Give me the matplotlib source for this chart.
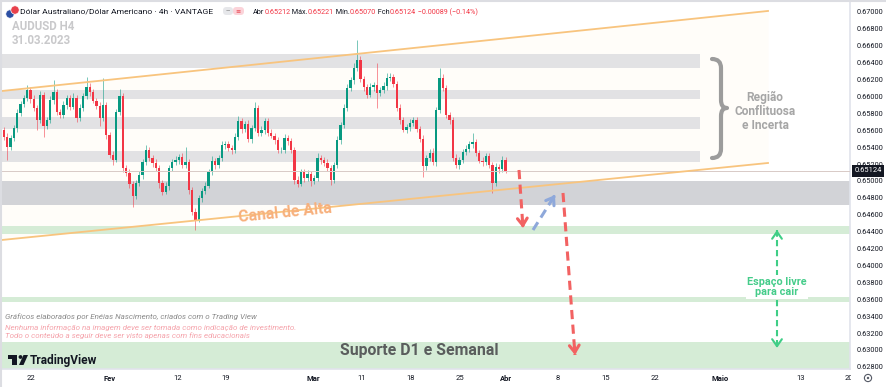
import numpy as np
import matplotlib
matplotlib.use("Agg")
import matplotlib.pyplot as plt
from matplotlib.path import Path
from matplotlib.patches import PathPatch, FancyBboxPatch, Circle, Polygon, Rectangle

plt.rcParams['font.family'] = ['Roboto', 'DejaVu Sans']

# AUDUSD candles (each one ~8h)
first_open = 0.65604
closes = [
    0.65521, 0.65402, 0.65509, 0.65627, 0.65805, 0.65911, 0.65982, 0.66077, 0.65970, 0.65864,
    0.65722, 0.66018, 0.65651, 0.65722, 0.65959, 0.66053, 0.65817, 0.65781, 0.65899, 0.65982,
    0.65876, 0.65982, 0.65746, 0.65864, 0.66006, 0.66112, 0.66053, 0.65947, 0.65888, 0.65746,
    0.65899, 0.65544, 0.65308, 0.65249, 0.65817, 0.66006, 0.65154, 0.65095, 0.64965, 0.64823,
    0.64976, 0.65071, 0.65225, 0.65367, 0.65272, 0.65213, 0.65154, 0.64976, 0.64870, 0.64941,
    0.65154, 0.65225, 0.65249, 0.65284, 0.65189, 0.65225, 0.64894, 0.64633, 0.64539, 0.64799,
    0.64882, 0.64941, 0.65107, 0.65237, 0.65189, 0.65272, 0.65426, 0.65438, 0.65391, 0.65367,
    0.65521, 0.65710, 0.65615, 0.65675, 0.65497, 0.65627, 0.65864, 0.65568, 0.65604, 0.65710,
    0.65568, 0.65533, 0.65485, 0.65367, 0.65367, 0.65509, 0.65473, 0.65367, 0.65012, 0.64965,
    0.65107, 0.65036, 0.65083, 0.65000, 0.65036, 0.65272, 0.65249, 0.65213, 0.65154, 0.65012,
    0.65189, 0.65485, 0.65663, 0.65864, 0.66101, 0.66195, 0.66337, 0.66432, 0.66207, 0.66112,
    0.66018, 0.66112, 0.66136, 0.66041, 0.66077, 0.66124, 0.66219, 0.66231, 0.66148, 0.65864,
    0.65722, 0.65604, 0.65639, 0.65686, 0.65722, 0.65615, 0.65497, 0.65178, 0.65272, 0.65331,
    0.65225, 0.65840, 0.66219, 0.66101, 0.65781, 0.65722, 0.65272, 0.65189, 0.65249, 0.65343,
    0.65379, 0.65438, 0.65462, 0.65331, 0.65237, 0.65225, 0.65296, 0.65189, 0.64976, 0.65166,
    0.65142, 0.65249, 0.65124,
]
# wick lengths beyond the body, in pips
wick_up = [
    4, 5, 3, 4, 5, 3, 4, 6, 4, 5, 3, 5, 4, 4, 5, 14, 4,
    3, 5, 4, 4, 6, 3, 5, 4, 12, 5, 4, 3, 5, 32, 4, 3, 5,
    4, 8, 3, 4, 5, 3, 4, 5, 4, 6, 3, 4, 5, 3, 4, 5, 4,
    3, 5, 4, 5, 18, 3, 4, 5, 4, 3, 5, 4, 6, 3, 4, 5, 4,
    3, 4, 5, 6, 4, 3, 5, 4, 7, 3, 5, 4, 3, 5, 4, 4, 3,
    5, 4, 3, 4, 5, 3, 4, 5, 3, 4, 6, 3, 4, 5, 3, 4, 5,
    4, 5, 5, 4, 6, 24, 5, 4, 3, 5, 4, 26, 4, 5, 6, 5, 4,
    3, 5, 4, 4, 5, 3, 4, 3, 5, 4, 5, 6, 4, 12, 5, 4, 3,
    4, 5, 3, 4, 5, 4, 11, 3, 4, 5, 4, 3, 4, 5, 4, 5, 3,
]
wick_dn = [
    4, 15, 4, 3, 5, 4, 3, 4, 5, 4, 12, 4, 13, 4, 3, 5, 4,
    4, 3, 5, 4, 3, 5, 4, 3, 4, 5, 3, 4, 9, 4, 5, 4, 6,
    3, 4, 5, 4, 5, 13, 4, 3, 5, 4, 3, 5, 4, 6, 4, 3, 5,
    4, 3, 5, 4, 4, 5, 4, 12, 3, 5, 4, 3, 4, 5, 4, 3, 5,
    4, 5, 3, 4, 5, 4, 3, 5, 4, 3, 4, 5, 4, 3, 5, 4, 4,
    3, 5, 4, 5, 4, 3, 5, 4, 6, 3, 4, 5, 3, 4, 6, 4, 3,
    5, 4, 3, 4, 5, 4, 3, 5, 4, 3, 5, 18, 4, 3, 5, 4, 3,
    4, 5, 3, 4, 5, 4, 3, 4, 13, 5, 4, 3, 5, 4, 4, 3, 5,
    4, 3, 5, 4, 3, 4, 5, 4, 3, 5, 4, 3, 12, 4, 5, 4, 3,
]

time_ticks = [31, 110, 178, 226, 313, 362, 411, 460, 506, 558, 606, 655, 720, 801, 849]
time_labels = ["22", "Fev", "12", "19", "Mar", "11", "18", "25", "Abr", "8", "15", "22", "Maio", "13", "20"]
month_labels = {"Fev", "Mar", "Abr", "Maio"}

gray_zones = [(0.66337, 0.66503), (0.65970, 0.66077), (0.65615, 0.65757), (0.65225, 0.65355)]
dark_zone = (0.64716, 0.64999)
green_zones = [(0.64373, 0.64468), (0.63568, 0.63627), (0.62700, 0.63095)]
chan_x = [2, 768]
chan_upper = [0.66065, 0.67012]
chan_lower = [0.64302, 0.65213]

fig = plt.figure(figsize=(8.86, 3.87), dpi=100)
fig.patch.set_facecolor('white')
ax = fig.add_axes([2 / 886, 18 / 387, 848 / 886, 367 / 387])
ax.set_xlim(2, 850)
ax.set_ylim(0.62775, 0.67118)
ax.set_facecolor('white')

# zones
ax.fill_between(chan_x, chan_lower, chan_upper, color='#fffdf9', lw=0, zorder=0)
for lo, hi in gray_zones:
    ax.fill_between([2, 700], lo, hi, color='#e2e2e4', lw=0, zorder=1)
ax.axhspan(*dark_zone, color='#d2d3d7', lw=0, zorder=1)
for lo, hi in green_zones:
    ax.axhspan(lo, hi, color='#d5ecd6', lw=0, zorder=1)

# channel
ax.plot(chan_x, chan_upper, color='#f8c47e', lw=1.3, zorder=4)
ax.plot(chan_x, chan_lower, color='#f8c47e', lw=1.3, zorder=4)

# candles
c = np.array(closes)
o = np.array([first_open] + closes[:-1])
hi = np.maximum(o, c) + np.array(wick_up) * 1e-4
lo = np.minimum(o, c) - np.array(wick_dn) * 1e-4
x = 4 + 3.3 * np.arange(len(c))
cols = np.where(c >= o, '#089981', '#f23645')
ax.vlines(x, lo, hi, colors=cols, lw=0.7, alpha=0.55, zorder=2)
body = np.where(np.abs(c - o) < 3e-5, 3e-5, c - o)
ax.bar(x, body, bottom=o, width=2.3, color=cols, lw=0, zorder=3)

ax.axhline(closes[-1], color='#d8cac6', lw=0.7, zorder=3)


def dashed_arrow(x0, y0, x1, y1, color, lw=2.2, both=False):
    ax.plot([x0, x1], [y0, y1], color=color, lw=lw, ls=(0, (3, 1.8)),
            solid_capstyle='butt', zorder=6)
    ends = [((x0, y0), (x1, y1))]
    if both:
        ends.append(((x1, y1), (x0, y0)))
    for (sx, sy), (ex, ey) in ends:
        ax.annotate('', xy=(ex, ey), xytext=(ex - (ex - sx) * 0.05, ey - (ey - sy) * 0.05),
                    arrowprops=dict(arrowstyle='->,head_length=0.5,head_width=0.35',
                                    color=color, lw=lw, shrinkA=0, shrinkB=0), zorder=7)


dashed_arrow(519, 0.65130, 523, 0.64444, '#f26262')
dashed_arrow(533, 0.64420, 555, 0.64834, '#8ea8da')
dashed_arrow(563, 0.64858, 575, 0.62941, '#f26262')
dashed_arrow(777, 0.64420, 777, 0.63024, '#3fce86', lw=1.5, both=True)

# axes styling
for s in ['top', 'left']:
    ax.spines[s].set_visible(False)
for s in ['right', 'bottom']:
    ax.spines[s].set_color('#e0e3eb')
    ax.spines[s].set_linewidth(1.2)
ax.yaxis.tick_right()
ax.set_yticks(np.arange(0.628, 0.6701, 0.002))
ax.set_yticklabels(['{:.5f}'.format(v) for v in np.arange(0.628, 0.6701, 0.002)])
ax.set_xticks(time_ticks)
ax.set_xticklabels(time_labels)
ax.tick_params(axis='y', length=0, pad=5, labelsize=5.3, labelcolor='#131722')
ax.tick_params(axis='x', length=0, pad=4, labelsize=5.5, labelcolor='#131722')
for lab in ax.get_xticklabels():
    if lab.get_text() in month_labels:
        lab.set_fontweight('bold')

# overlay in pixel coordinates for texts and decorations
ov = fig.add_axes([0, 0, 1, 1])
ov.set_xlim(0, 886)
ov.set_ylim(387, 0)
ov.axis('off')
ov.patch.set_alpha(0)
ov.set_zorder(5)

ov.plot([0.8, 0.8], [0, 387], color='#dcdde2', lw=1.5)
ov.plot([0, 886], [0.8, 0.8], color='#dcdde2', lw=1.5)

# header
ov.add_patch(Circle((10, 14), 4.2, fc='#2c4fa3', ec='white', lw=0.5))
ov.add_patch(Circle((15, 10), 4.2, fc='#e8414c', ec='white', lw=0.5))
ov.text(20, 12, "Dólar Australiano/Dólar Americano · 4h · VANTAGE", fontsize=6.1,
        color='#131722', va='center')
ov.add_patch(FancyBboxPatch((223, 7), 10, 8, boxstyle='round,pad=0,rounding_size=3.5',
                            fc='#e6e7ea', ec='none'))
ov.add_patch(FancyBboxPatch((233, 7), 11, 8, boxstyle='round,pad=0,rounding_size=3.5',
                            fc='#fbd3d9', ec='none'))
ov.text(228, 11, "—", fontsize=4, color='#555555', ha='center', va='center')
ov.text(238.5, 11, "≡", fontsize=4.5, color='#e8414c', ha='center', va='center',
        family=['DejaVu Sans'])

renderer = fig.canvas.get_renderer()
hx = 253
for txt, col in [("Abr", '#131722'), ("0.65212", '#f23645'), (" Máx.", '#131722'),
                 ("0.65221", '#f23645'), (" Mín.", '#131722'), ("0.65070", '#f23645'),
                 (" Fch", '#131722'), ("0.65124", '#f23645'), (" −0.00089 (−0.14%)", '#f23645')]:
    t = ov.text(hx, 12, txt, fontsize=5.2, color=col, va='center')
    hx += t.get_window_extent(renderer=renderer).width

ov.text(12, 26, "AUDUSD H4", fontsize=8.3, fontweight='bold', color='#c9c9cb', va='center')
ov.text(12, 40, "31.03.2023", fontsize=8.3, fontweight='bold', color='#c9c9cb', va='center')

# brace + region label
verts = [(712, 59), (721, 59), (721, 68), (721, 100), (721, 108), (727, 108),
         (721, 108), (721, 116), (721, 149), (721, 158), (712, 158)]
codes = [Path.MOVETO, Path.CURVE3, Path.CURVE3, Path.LINETO, Path.CURVE3, Path.CURVE3,
         Path.CURVE3, Path.CURVE3, Path.LINETO, Path.CURVE3, Path.CURVE3]
ov.add_patch(PathPatch(Path(verts, codes), fc='none', ec='#9c9c9c', lw=3, capstyle='round',
                       joinstyle='round'))
ov.text(765, 111, "Região\nConflituosa\ne Incerta", fontsize=8.6, fontweight='bold',
        color='#a6a6a6', ha='center', va='center', linespacing=1.1)

ov.text(285, 213, "Canal de Alta", fontsize=11.3, fontweight='bold', color='#f7b07c',
        ha='center', va='center', rotation=5.7, rotation_mode='anchor')
ov.text(419, 350, "Suporte D1 e Semanal", fontsize=11.4, fontweight='bold', color='#5a5d5d',
        ha='center', va='center')
ov.text(777, 287, "Espaço livre\npara cair", fontsize=7.8, fontweight='bold', color='#45cc8a',
        ha='center', va='center', linespacing=1.1,
        bbox=dict(boxstyle='square,pad=0.15', fc='white', ec='none'))

# footer notes
ov.text(5, 317, "Gráficos elaborados por Enéias Nascimento, criados com o Trading View",
        fontsize=5.75, style='italic', color='#8a8a8a', va='center')
ov.text(5, 327.5, "Nenhuma informação na imagem deve ser tomada como indicação de investimento.",
        fontsize=5.8, style='italic', color='#f5a3ab', va='center')
ov.text(5, 335.5, "Todo o conteúdo a seguir deve ser visto apenas com fins educacionais",
        fontsize=5.8, style='italic', color='#f5a3ab', va='center')

# TradingView logo
ov.add_patch(Rectangle((8, 355), 9, 4, fc='#131722', ec='none'))
ov.add_patch(Rectangle((12.5, 355), 4.5, 10, fc='#131722', ec='none'))
ov.add_patch(Circle((20.5, 357), 1.9, fc='#131722', ec='none'))
ov.add_patch(Polygon([(19, 365), (23.5, 355), (28, 355), (23.5, 365)], fc='#131722', ec='none'))
ov.text(30, 360.5, "TradingView", fontsize=8.6, fontweight='bold', color='#131722', va='center')

# last price tag and settings icon
ov.text(868, 171, "0.65124", fontsize=5.4, color='white', ha='center', va='center',
        bbox=dict(boxstyle='square,pad=0.3', fc='#131722', ec='none'))
ov.add_patch(Rectangle((851, 370), 35, 17, fc='white', ec='none'))
ov.add_patch(Circle((868, 378), 3.6, fc='none', ec='#555a66', lw=0.8))
ov.add_patch(Circle((868, 378), 1.2, fc='#555a66', ec='none'))

fig.savefig("out.png", dpi=100, facecolor='white')
